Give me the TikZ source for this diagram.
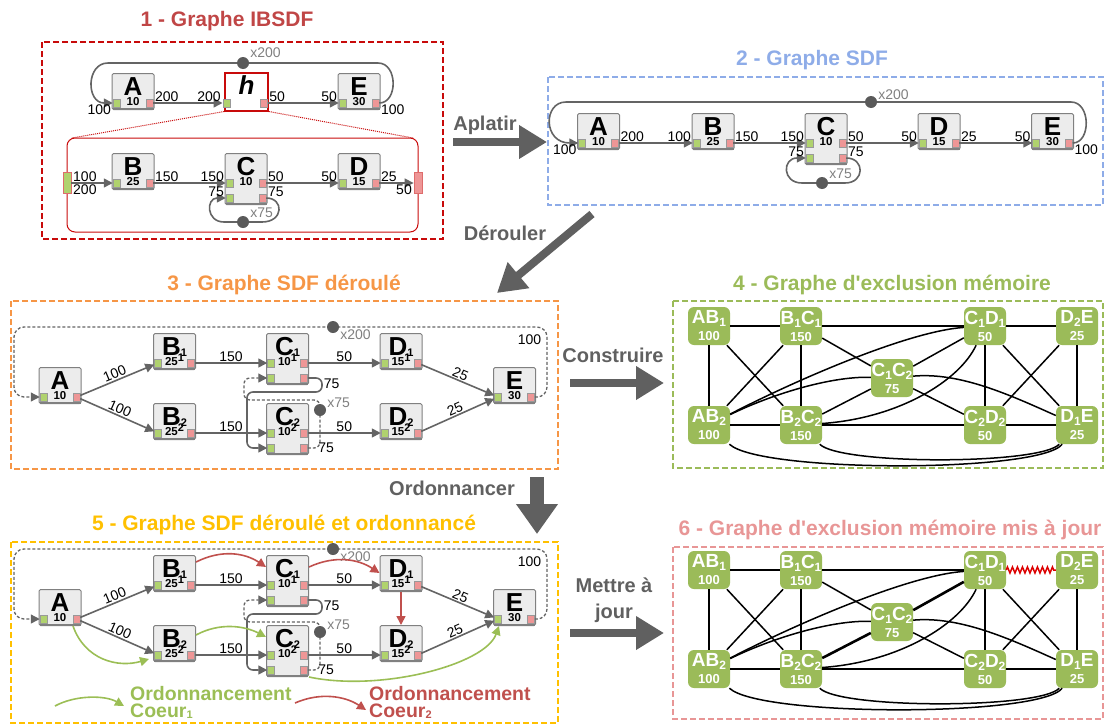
\documentclass[tikz,border=0pt]{standalone}
\usepackage{fontspec}
\setmainfont{Liberation Sans}[Ligatures=TeXOff]
\usetikzlibrary{arrows.meta,positioning,calc,decorations.pathmorphing}

\definecolor{boxfill}{RGB}{236,236,236}
\definecolor{boxline}{RGB}{128,128,128}
\definecolor{edgegray}{RGB}{100,100,100}
\definecolor{portin}{RGB}{176,210,110}
\definecolor{portout}{RGB}{238,150,150}
\definecolor{dotgray}{RGB}{90,90,90}
\definecolor{lblgray}{RGB}{128,128,128}
\definecolor{arrgray}{RGB}{96,96,96}
\definecolor{ibsdfred}{RGB}{200,10,10}
\definecolor{ibsdftitle}{RGB}{192,70,70}
\definecolor{sdfblue}{RGB}{142,172,232}
\definecolor{unrollorange}{RGB}{246,150,70}
\definecolor{exclgreen}{RGB}{155,187,89}
\definecolor{schedyellow}{RGB}{255,192,0}
\definecolor{updpink}{RGB}{232,150,150}
\definecolor{coreone}{RGB}{155,190,85}
\definecolor{coretwo}{RGB}{192,80,77}
\definecolor{zzred}{RGB}{220,0,0}

\newcommand{\actsub}[1]{\raisebox{-1pt}{\fontsize{11}{11}\selectfont #1}}
\newcommand{\actsup}[1]{\raisebox{4pt}{\fontsize{11}{11}\selectfont #1}}
\newcommand{\memsub}[1]{\raisebox{-3pt}{\fontsize{12}{12}\selectfont #1}}

% actor box: [style] name, x, top y, letter, value
\newcommand{\sdfactor}[6][]{%
  \node[actor,#1] (#2) at (#3,#4) {};
  \draw[boxline, line width=2pt] ([xshift=1pt,yshift=1pt]#2.south west) -- ([xshift=-1pt,yshift=1pt]#2.south east);
  \node[actletter] (#2-l) at ([yshift=-22pt]#2.north) {#5};
  \node[actval] (#2-v) at ([yshift=-32.5pt]#2.north) {#6};
  \node[inport] (#2-i) at ([xshift=5pt,yshift=-30pt]#2.north west) {};
  \node[outport] (#2-o) at ([xshift=-5pt,yshift=-30pt]#2.north east) {};
}
\newcommand{\secondports}[1]{%
  \node[inport] (#1-i2) at ([xshift=5pt,yshift=-45pt]#1.north west) {};
  \node[outport] (#1-o2) at ([xshift=-5pt,yshift=-45pt]#1.north east) {};
}

\begin{document}
\begin{tikzpicture}[x=1pt, y=-1pt,
  actor/.style={draw=boxline, fill=boxfill, line width=1pt, rounded corners=1.5pt,
                minimum width=42pt, minimum height=36pt, inner sep=0pt, anchor=north},
  tall/.style={minimum height=51pt},
  portbox/.style={draw=boxline!80, line width=0.5pt, minimum width=7pt, minimum height=8pt, inner sep=0pt},
  inport/.style={portbox, fill=portin},
  outport/.style={portbox, fill=portout},
  actletter/.style={font=\fontsize{26}{26}\selectfont\bfseries, inner sep=0pt, anchor=base},
  actval/.style={font=\fontsize{11.5}{11.5}\selectfont\bfseries, inner sep=0pt, anchor=base},
  hier/.style={draw=ibsdfred, fill=white, line width=1.5pt, minimum width=43pt,
               minimum height=38pt, inner sep=0pt, anchor=north},
  ifport/.style={draw=ibsdfred!60, line width=0.8pt, minimum width=8pt, minimum height=21pt, inner sep=0pt},
  conn/.style={draw=edgegray, line width=1.6pt, -{Triangle[length=9pt,width=9pt]}},
  dconn/.style={conn, line width=1.3pt, dash pattern=on 3pt off 2pt},
  lbl/.style={font=\fontsize{14}{14}\selectfont, inner sep=1pt},
  delaydot/.style={circle, fill=dotgray, minimum size=12pt, inner sep=0pt},
  dlbl/.style={font=\fontsize{14}{14}\selectfont, text=lblgray, inner sep=1pt, anchor=west},
  panel/.style={line width=1.6pt, dash pattern=on 6pt off 3pt},
  ptitle/.style={font=\fontsize{21}{21}\selectfont\bfseries},
  bigarrow/.style={draw=arrgray, line width=8pt, -{Triangle[length=28pt,width=32pt]}},
  steplbl/.style={font=\fontsize{20}{26}\selectfont\bfseries, text=arrgray, align=center},
  mem/.style={rounded corners=6pt, fill=exclgreen, text=white, minimum width=42pt,
              minimum height=38pt, inner sep=0pt, align=center, font=\fontsize{19}{17}\selectfont\bfseries},
  excl/.style={draw=black, line width=1.5pt},
  m-thick/.style={excl},
  n-thick/.style={excl, line width=2.6pt},
  zz/.style={draw=zzred, line width=1.5pt, decorate, decoration={zigzag, segment length=5pt, amplitude=3pt}},
  core1/.style={draw=coreone, line width=1.6pt, -{Triangle[length=9pt,width=9pt]}},
  core2/.style={draw=coretwo, line width=1.6pt, -{Triangle[length=9pt,width=9pt]}},
  legtxt/.style={font=\fontsize{19.5}{17}\selectfont\bfseries, align=left, inner sep=0pt, anchor=west}
]
\useasboundingbox (0,0) rectangle (1105,726);

% 1 - IBSDF graph
\node[ptitle, text=ibsdftitle] (t1) at (227,21) {1 - Graphe IBSDF};
\draw[panel, draw=ibsdfred] (42,42) rectangle (443,239);
\sdfactor{A}{133}{73}{A}{10}
\node[hier] (h) at (246.5,72) {};
\node[actletter, font=\fontsize{26}{26}\selectfont\bfseries\itshape] (h-l) at ([yshift=-22pt]h.north) {h};
\node[inport] (h-i) at ([xshift=2pt,yshift=-31pt]h.north west) {};
\node[outport] (h-o) at ([xshift=-5pt,yshift=-31pt]h.north east) {};
\sdfactor{E}{359}{73}{E}{30}

\draw[conn] (A-o) -- node[lbl, at start, above right]{200} node[lbl, at end, above left]{200} (h-i);
\draw[conn] (h-o) -- node[lbl, at start, above right]{50} node[lbl, at end, above left]{50} (E-i);
\draw[conn] (E-o.east) node[lbl, below right]{100} .. controls (398,103) and (398,63) .. (378,63)
  -- (108,63) .. controls (86,63) and (86,103) .. (A-i.west) node[lbl, below left]{100};
\node[delaydot] (d1) at (243,63) {};
\node[dlbl] (d1-l) at ([yshift=10pt]d1.east) {x200};

% inside of h
\draw[ibsdfred, line width=1pt, rounded corners=8pt] (67,138) rectangle (418,232);
\draw[ibsdfred, line width=1pt, densely dotted] (h.south west) -- (72,138) (h.south east) -- (413,138);
\node[ifport, fill=portin] (in1) at (67,183) {};
\node[ifport, fill=portout] (out1) at (418,183) {};
\sdfactor{B}{133}{153}{B}{25}
\sdfactor[tall]{C}{246}{153}{C}{10}
\secondports{C}
\sdfactor{D}{359}{153}{D}{15}

\draw[conn] (in1) -- node[lbl, at start, above right]{100} node[lbl, at start, below right]{200} (B-i);
\draw[conn] (B-o) -- node[lbl, at start, above right]{150} node[lbl, at end, above left]{150} (C-i);
\draw[conn] (C-o) -- node[lbl, at start, above right]{50} node[lbl, at end, above left]{50} (D-i);
\draw[conn] (D-o) -- node[lbl, at start, above right]{25} node[lbl, at end, below left]{50} (out1);
\draw[conn] (C-o2.east) node[lbl, above right]{75} .. controls (284,198) and (284,222) .. (262,222)
  -- (224,222) .. controls (206,222) and (206,198) .. (C-i2.west) node[lbl, above left]{75};
\node[delaydot] (d2) at (243,222) {};
\node[dlbl] (d2-l) at ([yshift=9pt]d2.east) {x75};

% 2 - SDF graph
\node[ptitle, text=sdfblue] (t2) at (812,60) {2 - Graphe SDF};
\draw[panel, draw=sdfblue] (548,77) rectangle (1103,205);
\sdfactor{fA}{598.5}{113}{A}{10}
\sdfactor{fB}{713}{113}{B}{25}
\sdfactor[tall]{fC}{826}{113}{C}{10}
\secondports{fC}
\sdfactor{fD}{939}{113}{D}{15}
\sdfactor{fE}{1052.5}{113}{E}{30}

\draw[conn] (fA-o) -- node[lbl, at start, above right]{200} node[lbl, at end, above left]{100} (fB-i);
\draw[conn] (fB-o) -- node[lbl, at start, above right]{150} node[lbl, at end, above left]{150} (fC-i);
\draw[conn] (fC-o) -- node[lbl, at start, above right]{50} node[lbl, at end, above left]{50} (fD-i);
\draw[conn] (fD-o) -- node[lbl, at start, above right]{25} node[lbl, at end, above left]{50} (fE-i);
\draw[conn] (fE-o.east) node[lbl, below right]{100} .. controls (1091,143) and (1091,102) .. (1071,102)
  -- (566,102) .. controls (543,102) and (543,143) .. (fA-i.west) node[lbl, below left]{100};
\node[delaydot] (d3) at (871,102) {};
\node[dlbl] (d3-l) at ([yshift=7pt]d3.east) {x200};
\draw[conn] (fC-o2.east) node[lbl, above right]{75} .. controls (865,158) and (865,183) .. (845,183)
  -- (802,183) .. controls (782,183) and (782,158) .. (fC-i2.west) node[lbl, above left]{75};
\node[delaydot] (d4) at (822,183) {};
\node[dlbl] (d4-l) at ([yshift=9pt]d4.east) {x75};

% 3 and 5 - unrolled SDF graphs (same layout, 222pt apart)
\node[ptitle, text=unrollorange] (t3) at (284,285) {3 - Graphe SDF déroulé};
\draw[panel, draw=unrollorange] (11,301) rectangle (558,469);
\node[ptitle, text=schedyellow] (t5) at (284,525) {5 - Graphe SDF déroulé et ordonnancé};
\draw[panel, draw=schedyellow] (11,542) rectangle (558,723);

\foreach \p/\dy in {u/0,s/222}{
  \sdfactor{\p-A}{60}{367+\dy}{A}{10}
  \sdfactor{\p-B1}{174.5}{333+\dy}{B\actsub{1}}{25\actsup{1}}
  \sdfactor{\p-B2}{174.5}{403+\dy}{B\actsub{2}}{25\actsup{2}}
  \sdfactor[tall]{\p-C1}{287.5}{333+\dy}{C\actsub{1}}{10\actsup{1}}
  \secondports{\p-C1}
  \sdfactor[tall]{\p-C2}{287.5}{403+\dy}{C\actsub{2}}{10\actsup{2}}
  \secondports{\p-C2}
  \sdfactor{\p-D1}{401}{333+\dy}{D\actsub{1}}{15\actsup{1}}
  \sdfactor{\p-D2}{401}{403+\dy}{D\actsub{2}}{15\actsup{2}}
  \sdfactor{\p-E}{514.5}{367+\dy}{E}{30}

  \draw[conn] (\p-A-o) -- node[lbl, above, sloped]{100} (\p-B1-i);
  \draw[conn] (\p-A-o) -- node[lbl, above, sloped]{100} (\p-B2-i);
  \draw[conn] (\p-B1-o) -- node[lbl, above]{150} (\p-C1-i);
  \draw[conn] (\p-B2-o) -- node[lbl, above]{150} (\p-C2-i);
  \draw[conn] (\p-C1-o) -- node[lbl, above]{50} (\p-D1-i);
  \draw[conn] (\p-C2-o) -- node[lbl, above]{50} (\p-D2-i);
  \draw[conn] (\p-D1-o) -- node[lbl, above, sloped]{25} (\p-E-i);
  \draw[conn] (\p-D2-o) -- node[lbl, above, sloped]{25} (\p-E-i);

  \draw[conn, rounded corners=6pt] (\p-C1-o2.east) -- (322,378+\dy) -- (322,392+\dy) node[lbl, right, pos=0.4]{75}
    -- (247,392+\dy) -- (247,448+\dy) -- (\p-C2-i2.west);
  \draw[dconn, rounded corners=6pt] (\p-C2-o2.east) node[lbl, right, xshift=9pt]{75} -| (320,400+\dy)
    -| (244,378+\dy) -- (\p-C1-i2.west);
  \node[delaydot] (\p-d75) at (320,410+\dy) {};
  \node[dlbl] (\p-d75-l) at ([yshift=7pt]\p-d75.east) {x75};

  \draw[dconn, rounded corners=10pt] (\p-E-o.east) -| (547,327+\dy) -| (14,397+\dy) -- (\p-A-i.west);
  \node[delaydot] (\p-d200) at (333,327+\dy) {};
  \node[dlbl] (\p-d200-l) at ([yshift=-8pt]\p-d200.east) {x200};
  \node[lbl] (\p-l100) at (529.5,340+\dy) {100};
}

% schedule of panel 5
\draw[core2] ([yshift=-7pt]s-B1.north east) .. controls (222,549) and (245,553) .. ([yshift=-12pt]s-C1.north west);
\draw[core2] ([yshift=-12pt]s-C1.north east) .. controls (335,555) and (358,559) .. ([yshift=-18pt]s-D1.north west);
\draw[core2] (s-D1.south) -- (s-D2.north);
\draw[core1] ([xshift=13pt]s-A.south) .. controls (85,660) and (118,668) .. ([xshift=-4pt,yshift=3pt]s-B2.south west);
\draw[core1] ([yshift=-10pt]s-B2.north east) .. controls (220,622) and (245,626) .. ([yshift=-12pt]s-C2.north west);
\draw[core1] (s-C2.south east) .. controls (380,692) and (485,665) .. ([xshift=6pt]s-E.south west);

% legend
\node[legtxt, text=coreone] (leg1) at (130,702) {Ordonnancement\\Coeur\actsub{1}};
\coordinate (lg1s) at (55,706);
\draw[core1] (lg1s) .. controls (75,695) and (105,695) .. ([xshift=-6pt,yshift=-4pt]leg1.west);
\node[legtxt, text=coretwo] (leg2) at (369,702) {Ordonnancement\\Coeur\actsub{2}};
\coordinate (lg2s) at (295,703);
\draw[core2] (lg2s) .. controls (320,692) and (345,696) .. ([xshift=-3pt,yshift=-8pt]leg2.west);

% 4 and 6 - memory exclusion graphs
\node[ptitle, text=exclgreen] (t4) at (892,285) {4 - Graphe d'exclusion mémoire};
\draw[panel, draw=exclgreen] (673,301) rectangle (1103,468);
\node[ptitle, text=updpink] (t6) at (890,530) {6 - Graphe d'exclusion mémoire mis à jour};
\draw[panel, draw=updpink] (673,547) rectangle (1103,719);

\foreach \p/\dy in {m/0,n/244}{
  \node[mem] (\p-AB1) at (709,326+\dy) {AB\memsub{1}\\{\fontsize{13}{13}\selectfont 100}};
  \node[mem] (\p-B1C1) at (801,326+\dy) {B\memsub{1}C\memsub{1}\\{\fontsize{13}{13}\selectfont 150}};
  \node[mem] (\p-C1D1) at (985,326+\dy) {C\memsub{1}D\memsub{1}\\{\fontsize{13}{13}\selectfont 50}};
  \node[mem] (\p-D2E) at (1077,326+\dy) {D\memsub{2}E\\{\fontsize{13}{13}\selectfont 25}};
  \node[mem] (\p-C1C2) at (892,378+\dy) {C\memsub{1}C\memsub{2}\\{\fontsize{13}{13}\selectfont 75}};
  \node[mem] (\p-AB2) at (709,425+\dy) {AB\memsub{2}\\{\fontsize{13}{13}\selectfont 100}};
  \node[mem] (\p-B2C2) at (801,425+\dy) {B\memsub{2}C\memsub{2}\\{\fontsize{13}{13}\selectfont 150}};
  \node[mem] (\p-C2D2) at (985,425+\dy) {C\memsub{2}D\memsub{2}\\{\fontsize{13}{13}\selectfont 50}};
  \node[mem] (\p-D1E) at (1077,425+\dy) {D\memsub{1}E\\{\fontsize{13}{13}\selectfont 25}};

  \foreach \a/\b in {AB1/B1C1, B1C1/C1D1, AB1/AB2, AB1/B2C2, B1C1/AB2, B1C1/B2C2, B1C1/C1C2,
                     C1D1/C2D2, C1D1/D1E, D2E/C2D2, D2E/D1E, AB2/B2C2, B2C2/C2D2, C2D2/D1E,
                     C1C2/C2D2}
    \draw[excl] (\p-\a) -- (\p-\b);
  \foreach \a/\b in {B2C2/C1C2, C1C2/C1D1}
    \draw[\p-thick] (\p-\a) -- (\p-\b);

  \draw[excl] (\p-AB2) .. controls (770,395+\dy) and (830,376+\dy) .. (\p-C1C2);
  \draw[excl] (\p-AB2) .. controls (800,378+\dy) and (910,331+\dy) .. (\p-C1D1);
  \draw[excl] (\p-B2C2) .. controls (900,418+\dy) and (960,380+\dy) .. (\p-C1D1);
  \draw[excl] (\p-C1C2) .. controls (960,372+\dy) and (1010,395+\dy) .. (\p-D1E);
  \draw[excl] (\p-AB2) .. controls (760,473+\dy) and (1040,473+\dy) .. (\p-D1E);
  \draw[excl] (\p-B2C2) .. controls (840,465+\dy) and (1040,465+\dy) .. (\p-D1E);
}
\draw[excl] (m-C1D1) -- (m-D2E);
\draw[zz] (n-C1D1) -- (n-D2E);

% transformation steps
\coordinate (ap-s) at (453,142); \coordinate (ap-e) at (547,142);
\draw[bigarrow] (ap-s) -- (ap-e);
\node[steplbl] (ap-l) at (485,125) {Aplatir};
\coordinate (de-s) at (592,214); \coordinate (de-e) at (497,293);
\draw[bigarrow] (de-s) -- (de-e);
\node[steplbl] (de-l) at (505,233) {Dérouler};
\coordinate (co-s) at (570,383); \coordinate (co-e) at (664,383);
\draw[bigarrow] (co-s) -- (co-e);
\node[steplbl] (co-l) at (613,355) {Construire};
\coordinate (or-s) at (537,477); \coordinate (or-e) at (537,534);
\draw[bigarrow, line width=14pt, -{Triangle[length=30pt,width=40pt]}] (or-s) -- (or-e);
\node[steplbl] (or-l) at (452,488) {Ordonnancer};
\coordinate (mj-s) at (570,633); \coordinate (mj-e) at (664,633);
\draw[bigarrow] (mj-s) -- (mj-e);
\node[steplbl] (mj-l) at (614,600) {Mettre à\\jour};

\end{tikzpicture}
\end{document}
